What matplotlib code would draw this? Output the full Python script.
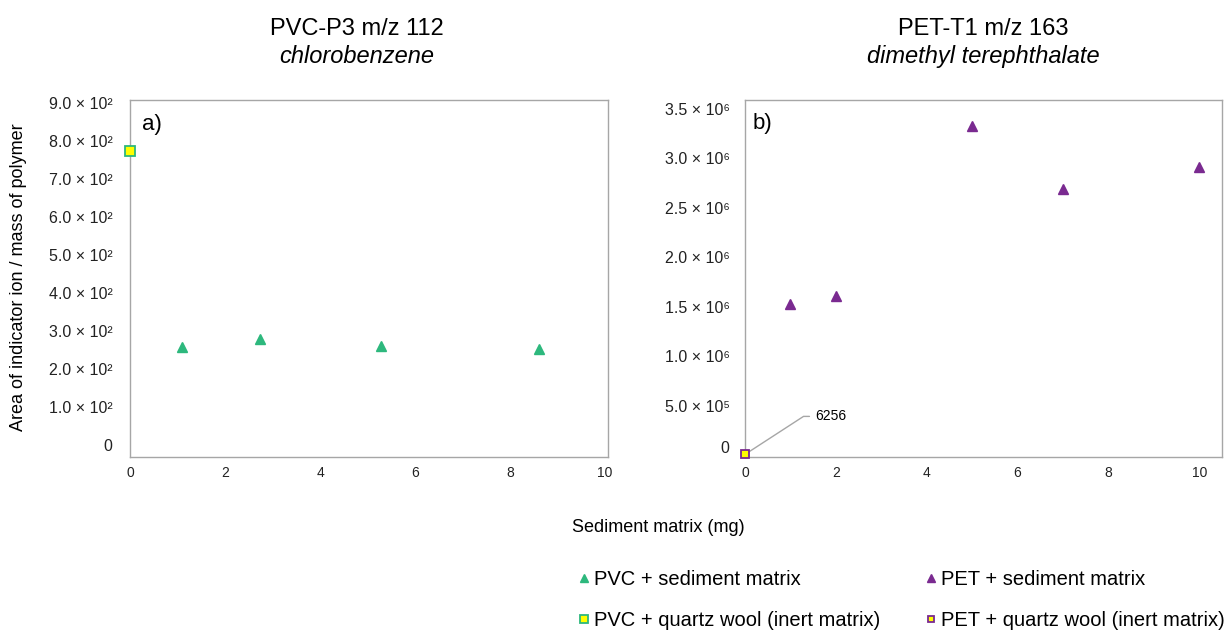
import matplotlib
matplotlib.use("Agg")
import matplotlib.pyplot as plt
from matplotlib.transforms import ScaledTranslation

plt.rcParams['font.family'] = ['Liberation Sans', 'DejaVu Sans']

# panel a: PVC-P3, chlorobenzene (m/z 112)
pvc_sed_x = [1.09, 2.74, 5.28, 8.61]
pvc_sed_y = [257, 277, 261, 253]
pvc_qw_x = [0]
pvc_qw_y = [773]
pvc_yticks = [0, 100, 200, 300, 400, 500, 600, 700, 800, 900]
pvc_ylabels = ['0', '1.0 × 10²', '2.0 × 10²', '3.0 × 10²', '4.0 × 10²',
               '5.0 × 10²', '6.0 × 10²', '7.0 × 10²', '8.0 × 10²', '9.0 × 10²']

# panel b: PET-T1, dimethyl terephthalate (m/z 163)
pet_sed_x = [1, 2, 5, 7, 10]
pet_sed_y = [1.53e6, 1.61e6, 3.32e6, 2.69e6, 2.91e6]
pet_qw_x = [0]
pet_qw_y = [6256]
pet_yticks = [0, 0.5e6, 1.0e6, 1.5e6, 2.0e6, 2.5e6, 3.0e6, 3.5e6]
pet_ylabels = ['0', '5.0 × 10⁵', '1.0 × 10⁶', '1.5 × 10⁶', '2.0 × 10⁶',
               '2.5 × 10⁶', '3.0 × 10⁶', '3.5 × 10⁶']

xticks = [0, 2, 4, 6, 8, 10]

green = '#2db87d'
purple = '#7a2a90'
yellow = '#ffff00'
grey = '#a6a6a6'

W, H = 1227, 633
fig = plt.figure(figsize=(W / 100, H / 100), dpi=100)


def px(x0, y0, x1, y1):
    # pixel box -> figure fraction rect
    return [x0 / W, 1 - y1 / H, (x1 - x0) / W, (y1 - y0) / H]


ax1 = fig.add_axes(px(130.4, 100, 607.5, 456.7))
ax2 = fig.add_axes(px(745, 100, 1222, 456.7))

ax1.plot(pvc_sed_x, pvc_sed_y, '^', ms=6.5, color=green, mec=green, ls='none',
         label='PVC + sediment matrix', clip_on=False)
ax1.plot(pvc_qw_x, pvc_qw_y, 's', ms=6.5, mfc=yellow, mec=green, mew=1.3, ls='none',
         label='PVC + quartz wool (inert matrix)', clip_on=False, zorder=5)
ax2.plot(pet_sed_x, pet_sed_y, '^', ms=6.5, color=purple, mec=purple, ls='none',
         label='PET + sediment matrix', clip_on=False)
ax2.plot(pet_qw_x, pet_qw_y, 's', ms=5.5, mfc=yellow, mec=purple, mew=1.3, ls='none',
         label='PET + quartz wool (inert matrix)', clip_on=False, zorder=5)

ax1.set_xlim(0, 10.06)
ax1.set_ylim(-32, 908)
ax2.set_xlim(0, 10.5)
ax2.set_ylim(-17000, 3.586e6)

ax1.set_yticks(pvc_yticks, pvc_ylabels)
ax2.set_yticks(pet_yticks, pet_ylabels)

for ax, ypad in ((ax1, 13), (ax2, 11)):
    ax.set_xticks(xticks, [str(t) for t in xticks])
    ax.tick_params(axis='x', length=0, pad=7, labelsize=10, labelcolor='#222222')
    ax.tick_params(axis='y', length=0, pad=ypad, labelsize=11.5, labelcolor='#222222')
    for s in ax.spines.values():
        s.set_color(grey)
        s.set_linewidth(1.0)

# the "0" on panel b sits a little above its tick in the original
zero_lab = ax2.get_yticklabels()[0]
zero_lab.set_transform(zero_lab.get_transform() + ScaledTranslation(0, 6 / 72, fig.dpi_scale_trans))

ax1.text(0.024, 0.93, 'a)', transform=ax1.transAxes, fontsize=16, va='center', ha='left')
ax2.text(0.015, 0.935, 'b)', transform=ax2.transAxes, fontsize=16, va='center', ha='left')

ax2.annotate('6256', xy=(pet_qw_x[0], pet_qw_y[0]), xytext=(70, 38),
             textcoords='offset pixels', fontsize=10, ha='left', va='center',
             arrowprops=dict(arrowstyle='-', color=grey, lw=1.0, shrinkA=2, shrinkB=3,
                             connectionstyle='angle,angleA=0,angleB=33,rad=0'))

# titles
fig.text(357 / W, 1 - 35 / H, 'PVC-P3 m/z 112', ha='center', va='baseline', fontsize=17)
fig.text(357 / W, 1 - 63 / H, 'chlorobenzene', ha='center', va='baseline', fontsize=17,
         style='italic')
fig.text(983 / W, 1 - 35 / H, 'PET-T1 m/z 163', ha='center', va='baseline', fontsize=17)
fig.text(983 / W, 1 - 63 / H, 'dimethyl terephthalate', ha='center', va='baseline',
         fontsize=17, style='italic')

fig.text(19 / W, 1 - 277 / H, 'Area of indicator ion / mass of polymer', rotation=90,
         ha='center', va='center', fontsize=13)
fig.text(658 / W, 1 - 531.7 / H, 'Sediment matrix (mg)', ha='center', va='baseline',
         fontsize=13)

h1, l1 = ax1.get_legend_handles_labels()
h2, l2 = ax2.get_legend_handles_labels()
fig.legend(h1 + h2, l1 + l2, ncol=2, loc='upper left',
           bbox_to_anchor=(578 / W, 1 - 570 / H), frameon=False, fontsize=14.5,
           handlelength=0.6, handletextpad=0.2, columnspacing=2.2, labelspacing=1.1,
           borderpad=0, borderaxespad=0, markerscale=0.8)

fig.savefig('out.png', dpi=100)
